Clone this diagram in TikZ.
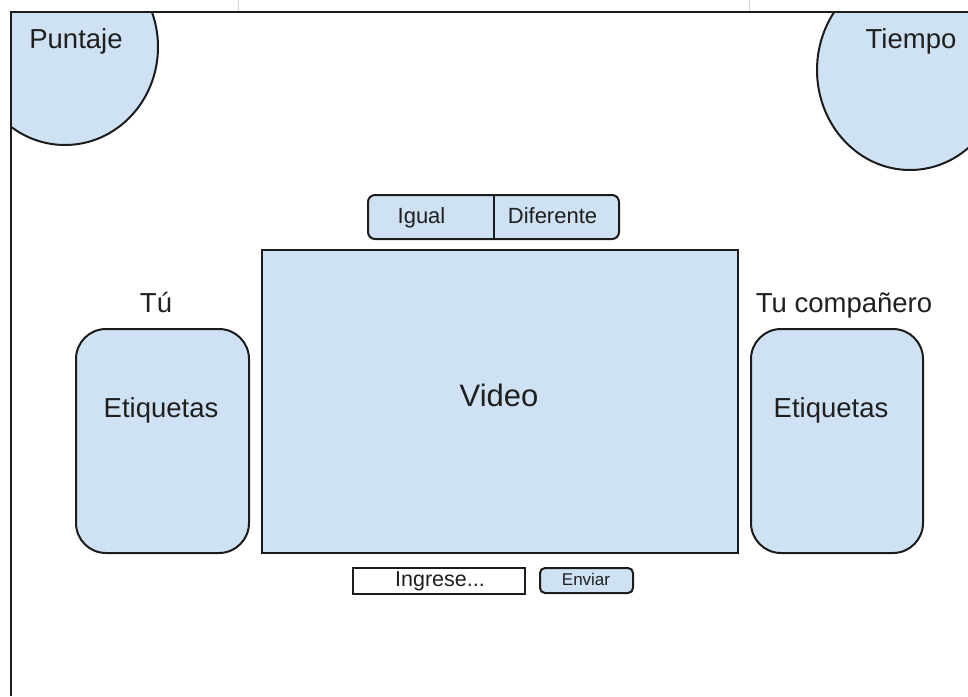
\documentclass[tikz,border=0pt]{standalone}
\usepackage{xcolor}
\usepackage{fontspec}
\setmainfont{Liberation Sans}
\usepackage{tikz}
\usetikzlibrary{shapes.geometric}

\definecolor{celeste}{HTML}{CFE2F3}
\definecolor{trazo}{HTML}{1C1C1C}
\definecolor{guia}{HTML}{D6D6D6}

\newcommand{\tam}[1]{\fontsize{#1}{#1}\selectfont}

\begin{document}
\begin{tikzpicture}[x=1pt, y=-1pt,
    caja/.style={draw=trazo, fill=celeste, line width=2pt, inner sep=0pt},
    texto/.style={text=black!88, inner sep=0pt, anchor=base}]

    % Marco de la imagen
    \useasboundingbox (0,0) rectangle (968,696);

    % Lineas guia (tenues)
    \draw[guia, line width=0.8pt] (238,0) -- (238,12);
    \draw[guia, line width=0.8pt] (749,0) -- (749,12);

    % Circulos de las esquinas, recortados por el marco
    \begin{scope}
        \clip (11,12) rectangle (968,696);
        \node[caja, ellipse, minimum width=186, minimum height=196] (puntaje) at (65,47) {};
        \node[caja, ellipse, minimum width=186, minimum height=200] (tiempo) at (910,70) {};
    \end{scope}

    % Marco
    \draw[trazo, line width=2.4pt] (11,696) -- (11,12) -- (968,12);

    % Textos de las esquinas
    \node[texto] at (76,48) {\tam{27.5}Puntaje};
    \node[texto] at (911,48) {\tam{27.5}Tiempo};

    % Botones Igual / Diferente
    \node[caja, rounded corners=7pt, minimum width=251, minimum height=44] (eleccion) at (493.5,217) {};
    \draw[trazo, line width=2pt] (eleccion.north) -- (eleccion.south);
    \node[texto] (igual) at (421.5,223) {\tam{22}Igual};
    \node[texto] (diferente) at (552.5,223) {\tam{22}Diferente};

    % Video
    \node[caja, minimum width=476, minimum height=303] (video) at (500,401.5) {};
    \node[texto] at (499,406) {\tam{31}Video};

    % Etiquetas propias
    \node[texto] (tu) at (156,312) {\tam{27.5}Tú};
    \node[caja, rounded corners=30pt, minimum width=173, minimum height=224] (etiqA) at (162.5,441) {};
    \node[texto] at (161,417) {\tam{27.5}Etiquetas};

    % Etiquetas del compañero
    \node[texto] (comp) at (844,312) {\tam{27.5}Tu compañero};
    \node[caja, rounded corners=30pt, minimum width=172, minimum height=224] (etiqB) at (837,441) {};
    \node[texto] at (831,417) {\tam{27.5}Etiquetas};

    % Entrada de texto y boton
    \node[caja, fill=white, minimum width=172, minimum height=26] (ingreso) at (439,581) {};
    \node[texto] at (440,586) {\tam{21.5}Ingrese...};
    \node[caja, rounded corners=5pt, minimum width=93, minimum height=25] (enviar) at (586.5,580.5) {};
    \node[texto] at (586,585) {\tam{17}Enviar};

\end{tikzpicture}
\end{document}
